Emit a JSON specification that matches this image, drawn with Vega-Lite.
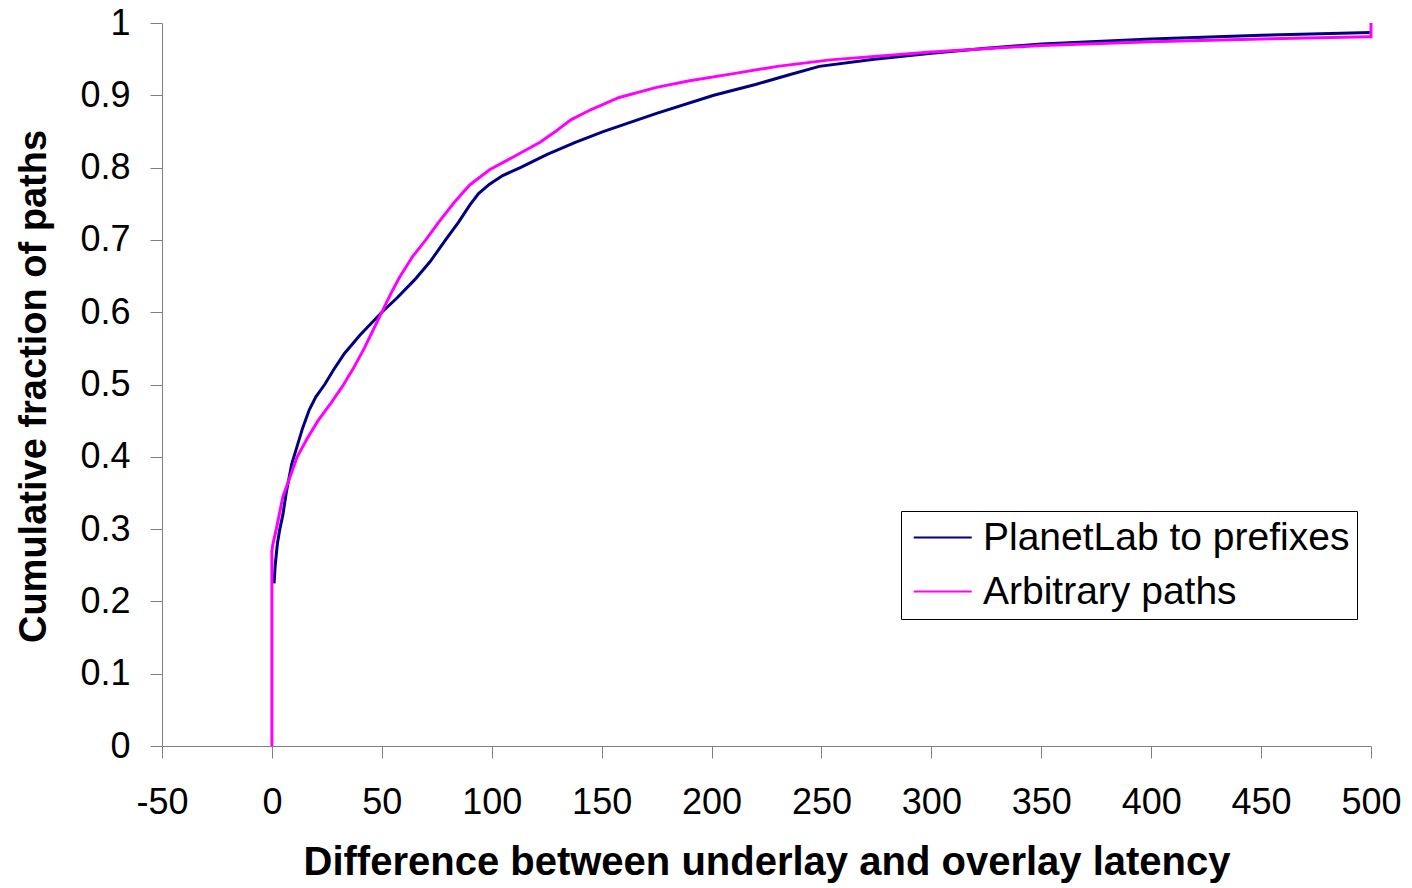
{
  "$schema": "https://vega.github.io/schema/vega-lite/v6.json",
  "width": 1209,
  "height": 723,
  "autosize": {"type": "none"},
  "padding": {"left": 162, "top": 23, "right": 41, "bottom": 142},
  "background": "white",
  "config": {"view": {"stroke": null}, "font": "Liberation Sans"},
  "data": {
    "values": [
      {"series": "PlanetLab to prefixes", "i": 1, "latency_diff": 1, "cum_fraction": 0.225},
      {"series": "PlanetLab to prefixes", "i": 2, "latency_diff": 1.5, "cum_fraction": 0.25},
      {"series": "PlanetLab to prefixes", "i": 3, "latency_diff": 2.5, "cum_fraction": 0.28},
      {"series": "PlanetLab to prefixes", "i": 4, "latency_diff": 3.6, "cum_fraction": 0.30},
      {"series": "PlanetLab to prefixes", "i": 5, "latency_diff": 5, "cum_fraction": 0.32},
      {"series": "PlanetLab to prefixes", "i": 6, "latency_diff": 6.5, "cum_fraction": 0.35},
      {"series": "PlanetLab to prefixes", "i": 7, "latency_diff": 9, "cum_fraction": 0.39},
      {"series": "PlanetLab to prefixes", "i": 8, "latency_diff": 11, "cum_fraction": 0.41},
      {"series": "PlanetLab to prefixes", "i": 9, "latency_diff": 14, "cum_fraction": 0.44},
      {"series": "PlanetLab to prefixes", "i": 10, "latency_diff": 17, "cum_fraction": 0.465},
      {"series": "PlanetLab to prefixes", "i": 11, "latency_diff": 20, "cum_fraction": 0.483},
      {"series": "PlanetLab to prefixes", "i": 12, "latency_diff": 24, "cum_fraction": 0.50},
      {"series": "PlanetLab to prefixes", "i": 13, "latency_diff": 28, "cum_fraction": 0.52},
      {"series": "PlanetLab to prefixes", "i": 14, "latency_diff": 33, "cum_fraction": 0.543},
      {"series": "PlanetLab to prefixes", "i": 15, "latency_diff": 40, "cum_fraction": 0.568},
      {"series": "PlanetLab to prefixes", "i": 16, "latency_diff": 50, "cum_fraction": 0.60},
      {"series": "PlanetLab to prefixes", "i": 17, "latency_diff": 57, "cum_fraction": 0.62},
      {"series": "PlanetLab to prefixes", "i": 18, "latency_diff": 65, "cum_fraction": 0.645},
      {"series": "PlanetLab to prefixes", "i": 19, "latency_diff": 72, "cum_fraction": 0.67},
      {"series": "PlanetLab to prefixes", "i": 20, "latency_diff": 79, "cum_fraction": 0.70},
      {"series": "PlanetLab to prefixes", "i": 21, "latency_diff": 85, "cum_fraction": 0.725},
      {"series": "PlanetLab to prefixes", "i": 22, "latency_diff": 90, "cum_fraction": 0.748},
      {"series": "PlanetLab to prefixes", "i": 23, "latency_diff": 94, "cum_fraction": 0.764},
      {"series": "PlanetLab to prefixes", "i": 24, "latency_diff": 99, "cum_fraction": 0.777},
      {"series": "PlanetLab to prefixes", "i": 25, "latency_diff": 105, "cum_fraction": 0.789},
      {"series": "PlanetLab to prefixes", "i": 26, "latency_diff": 113, "cum_fraction": 0.80},
      {"series": "PlanetLab to prefixes", "i": 27, "latency_diff": 125, "cum_fraction": 0.818},
      {"series": "PlanetLab to prefixes", "i": 28, "latency_diff": 138, "cum_fraction": 0.835},
      {"series": "PlanetLab to prefixes", "i": 29, "latency_diff": 151, "cum_fraction": 0.85},
      {"series": "PlanetLab to prefixes", "i": 30, "latency_diff": 175, "cum_fraction": 0.875},
      {"series": "PlanetLab to prefixes", "i": 31, "latency_diff": 201, "cum_fraction": 0.90},
      {"series": "PlanetLab to prefixes", "i": 32, "latency_diff": 220, "cum_fraction": 0.915},
      {"series": "PlanetLab to prefixes", "i": 33, "latency_diff": 235, "cum_fraction": 0.928},
      {"series": "PlanetLab to prefixes", "i": 34, "latency_diff": 249, "cum_fraction": 0.94},
      {"series": "PlanetLab to prefixes", "i": 35, "latency_diff": 274, "cum_fraction": 0.95},
      {"series": "PlanetLab to prefixes", "i": 36, "latency_diff": 300, "cum_fraction": 0.958},
      {"series": "PlanetLab to prefixes", "i": 37, "latency_diff": 325, "cum_fraction": 0.965},
      {"series": "PlanetLab to prefixes", "i": 38, "latency_diff": 350, "cum_fraction": 0.971},
      {"series": "PlanetLab to prefixes", "i": 39, "latency_diff": 400, "cum_fraction": 0.978},
      {"series": "PlanetLab to prefixes", "i": 40, "latency_diff": 450, "cum_fraction": 0.983},
      {"series": "PlanetLab to prefixes", "i": 41, "latency_diff": 500, "cum_fraction": 0.987},
      {"series": "Arbitrary paths", "i": 1, "latency_diff": 0, "cum_fraction": 0},
      {"series": "Arbitrary paths", "i": 2, "latency_diff": 0, "cum_fraction": 0.27},
      {"series": "Arbitrary paths", "i": 3, "latency_diff": 0.5, "cum_fraction": 0.28},
      {"series": "Arbitrary paths", "i": 4, "latency_diff": 2, "cum_fraction": 0.30},
      {"series": "Arbitrary paths", "i": 5, "latency_diff": 5, "cum_fraction": 0.345},
      {"series": "Arbitrary paths", "i": 6, "latency_diff": 8, "cum_fraction": 0.37},
      {"series": "Arbitrary paths", "i": 7, "latency_diff": 11.5, "cum_fraction": 0.40},
      {"series": "Arbitrary paths", "i": 8, "latency_diff": 16, "cum_fraction": 0.425},
      {"series": "Arbitrary paths", "i": 9, "latency_diff": 21, "cum_fraction": 0.45},
      {"series": "Arbitrary paths", "i": 10, "latency_diff": 27, "cum_fraction": 0.475},
      {"series": "Arbitrary paths", "i": 11, "latency_diff": 32, "cum_fraction": 0.497},
      {"series": "Arbitrary paths", "i": 12, "latency_diff": 37, "cum_fraction": 0.522},
      {"series": "Arbitrary paths", "i": 13, "latency_diff": 42, "cum_fraction": 0.55},
      {"series": "Arbitrary paths", "i": 14, "latency_diff": 46, "cum_fraction": 0.575},
      {"series": "Arbitrary paths", "i": 15, "latency_diff": 50, "cum_fraction": 0.60},
      {"series": "Arbitrary paths", "i": 16, "latency_diff": 54, "cum_fraction": 0.625},
      {"series": "Arbitrary paths", "i": 17, "latency_diff": 58, "cum_fraction": 0.648},
      {"series": "Arbitrary paths", "i": 18, "latency_diff": 64, "cum_fraction": 0.677},
      {"series": "Arbitrary paths", "i": 19, "latency_diff": 70, "cum_fraction": 0.70},
      {"series": "Arbitrary paths", "i": 20, "latency_diff": 76, "cum_fraction": 0.725},
      {"series": "Arbitrary paths", "i": 21, "latency_diff": 83, "cum_fraction": 0.752},
      {"series": "Arbitrary paths", "i": 22, "latency_diff": 90, "cum_fraction": 0.776},
      {"series": "Arbitrary paths", "i": 23, "latency_diff": 99, "cum_fraction": 0.797},
      {"series": "Arbitrary paths", "i": 24, "latency_diff": 110, "cum_fraction": 0.815},
      {"series": "Arbitrary paths", "i": 25, "latency_diff": 122, "cum_fraction": 0.835},
      {"series": "Arbitrary paths", "i": 26, "latency_diff": 129, "cum_fraction": 0.85},
      {"series": "Arbitrary paths", "i": 27, "latency_diff": 136, "cum_fraction": 0.866},
      {"series": "Arbitrary paths", "i": 28, "latency_diff": 145, "cum_fraction": 0.88},
      {"series": "Arbitrary paths", "i": 29, "latency_diff": 158, "cum_fraction": 0.897},
      {"series": "Arbitrary paths", "i": 30, "latency_diff": 175, "cum_fraction": 0.911},
      {"series": "Arbitrary paths", "i": 31, "latency_diff": 190, "cum_fraction": 0.92},
      {"series": "Arbitrary paths", "i": 32, "latency_diff": 210, "cum_fraction": 0.93},
      {"series": "Arbitrary paths", "i": 33, "latency_diff": 230, "cum_fraction": 0.94},
      {"series": "Arbitrary paths", "i": 34, "latency_diff": 254, "cum_fraction": 0.949},
      {"series": "Arbitrary paths", "i": 35, "latency_diff": 300, "cum_fraction": 0.96},
      {"series": "Arbitrary paths", "i": 36, "latency_diff": 350, "cum_fraction": 0.969},
      {"series": "Arbitrary paths", "i": 37, "latency_diff": 400, "cum_fraction": 0.974},
      {"series": "Arbitrary paths", "i": 38, "latency_diff": 450, "cum_fraction": 0.978},
      {"series": "Arbitrary paths", "i": 39, "latency_diff": 499, "cum_fraction": 0.981},
      {"series": "Arbitrary paths", "i": 40, "latency_diff": 500, "cum_fraction": 0.981},
      {"series": "Arbitrary paths", "i": 41, "latency_diff": 500, "cum_fraction": 1.0}
    ]
  },
  "mark": {"type": "line", "strokeWidth": 3},
  "encoding": {
    "x": {
      "field": "latency_diff",
      "type": "quantitative",
      "scale": {"domain": [-50, 500], "nice": false, "zero": false},
      "axis": {
        "values": [-50, 0, 50, 100, 150, 200, 250, 300, 350, 400, 450, 500],
        "labelExpr": "datum.value < 0 ? '-' + abs(datum.value) : datum.label",
        "title": "Difference between underlay and overlay latency",
        "titleFont": "Liberation Sans",
        "titleFontSize": 40,
        "titleFontWeight": "bold",
        "titleColor": "black",
        "titleY": 128,
        "titleBaseline": "alphabetic",
        "labelFont": "Liberation Sans",
        "labelFontSize": 36,
        "labelColor": "black",
        "labelPadding": 27,
        "labelFlush": false,
        "labelOverlap": false,
        "labelBound": false,
        "tickSize": 12,
        "tickColor": "#808080",
        "domainColor": "#808080",
        "grid": false
      }
    },
    "y": {
      "field": "cum_fraction",
      "type": "quantitative",
      "scale": {"domain": [0, 1], "nice": false},
      "axis": {
        "values": [0, 0.1, 0.2, 0.3, 0.4, 0.5, 0.6, 0.7, 0.8, 0.9, 1],
        "format": ".1~f",
        "title": "Cumulative fraction of paths",
        "titleFont": "Liberation Sans",
        "titleFontSize": 38,
        "titleFontWeight": "bold",
        "titleColor": "black",
        "titleAngle": -90,
        "titleX": -117,
        "titleY": 363,
        "titleAlign": "center",
        "titleBaseline": "alphabetic",
        "labelFont": "Liberation Sans",
        "labelFontSize": 36,
        "labelColor": "black",
        "labelPadding": 20,
        "labelFlush": false,
        "labelOverlap": false,
        "labelBound": false,
        "tickSize": 12,
        "tickColor": "#808080",
        "domainColor": "#808080",
        "grid": false
      }
    },
    "color": {
      "field": "series",
      "type": "nominal",
      "scale": {"domain": ["PlanetLab to prefixes", "Arbitrary paths"], "range": ["#000080", "#FF00FF"]},
      "legend": {
        "orient": "none",
        "legendX": 739,
        "legendY": 488,
        "title": null,
        "fillColor": "white",
        "strokeColor": "black",
        "padding": 7,
        "symbolType": "M-0.95,0H3.05",
        "symbolSize": 841,
        "symbolStrokeWidth": 2,
        "labelFont": "Liberation Sans",
        "labelFontSize": 39,
        "labelColor": "black",
        "labelLimit": 600,
        "labelOffset": 36,
        "rowPadding": 14,
        "cornerRadius": 0
      }
    },
    "order": {"field": "i", "type": "quantitative"}
  }
}
